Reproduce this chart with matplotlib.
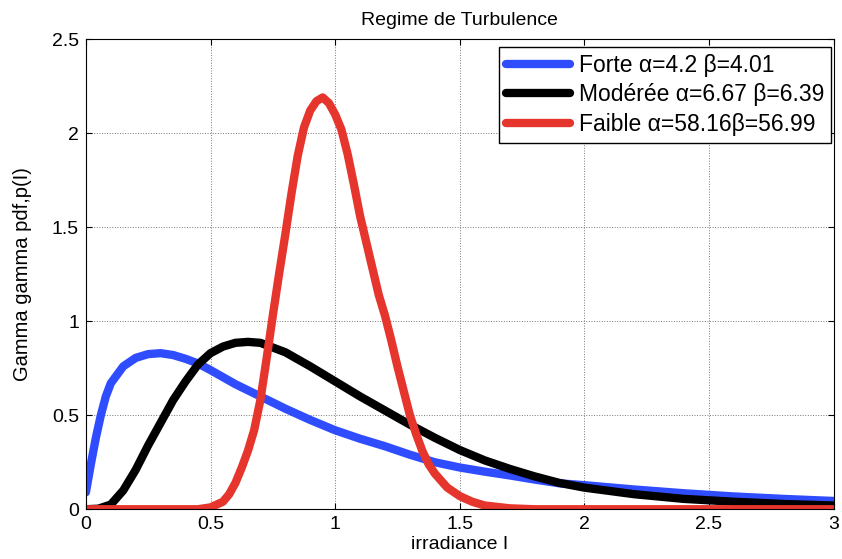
import matplotlib
matplotlib.use('agg')
import matplotlib.pyplot as plt

plt.rcParams['font.family'] = ['Liberation Sans', 'DejaVu Sans']

# Values
x_forte = [0, 0.02, 0.04, 0.06, 0.08, 0.1, 0.15, 0.2, 0.25, 0.3, 0.35, 0.4, 0.45, 0.5,
           0.6, 0.7, 0.8, 0.9, 1.0, 1.1, 1.2, 1.3, 1.4, 1.5, 1.6, 1.7, 1.8, 1.9, 2.0,
           2.2, 2.4, 2.6, 2.8, 3.0]
y_forte = [0.09, 0.24, 0.38, 0.5, 0.6, 0.67, 0.76, 0.805, 0.825, 0.83, 0.82, 0.8, 0.775, 0.74,
           0.665, 0.6, 0.535, 0.475, 0.42, 0.375, 0.335, 0.29, 0.25, 0.222, 0.2, 0.18, 0.158,
           0.138, 0.128, 0.105, 0.085, 0.068, 0.055, 0.044]

x_moderee = [0, 0.05, 0.1, 0.15, 0.2, 0.25, 0.3, 0.35, 0.4, 0.45, 0.5, 0.55, 0.6, 0.65, 0.7,
             0.8, 0.9, 1.0, 1.1, 1.2, 1.3, 1.4, 1.5, 1.6, 1.7, 1.8, 1.9, 2.0, 2.2, 2.4, 2.6,
             2.8, 3.0]
y_moderee = [0, 0.003, 0.025, 0.1, 0.21, 0.34, 0.46, 0.58, 0.68, 0.77, 0.83, 0.865, 0.885,
             0.89, 0.885, 0.835, 0.76, 0.68, 0.6, 0.525, 0.45, 0.38, 0.315, 0.26, 0.215, 0.175,
             0.14, 0.115, 0.08, 0.055, 0.04, 0.028, 0.02]

x_faible = [0, 0.45, 0.5, 0.55, 0.575, 0.6, 0.625, 0.65, 0.675, 0.7, 0.725, 0.75, 0.775, 0.8,
            0.825, 0.85, 0.875, 0.9, 0.925, 0.95, 0.975, 1.0, 1.025, 1.05, 1.075, 1.1, 1.125,
            1.15, 1.175, 1.2, 1.225, 1.25, 1.275, 1.3, 1.325, 1.35, 1.375, 1.4, 1.45, 1.5,
            1.55, 1.6, 1.7, 1.8, 3.0]
y_faible = [0, 0, 0.01, 0.04, 0.08, 0.14, 0.22, 0.31, 0.42, 0.58, 0.8, 1.03, 1.25, 1.46,
            1.68, 1.88, 2.03, 2.12, 2.17, 2.19, 2.16, 2.1, 2.02, 1.89, 1.73, 1.56, 1.42,
            1.28, 1.14, 1.03, 0.9, 0.76, 0.63, 0.5, 0.4, 0.31, 0.24, 0.19, 0.115, 0.07,
            0.04, 0.02, 0.005, 0, 0]

labels = ['Forte \u03b1=4.2 \u03b2=4.01',
          'Modérée \u03b1=6.67 \u03b2=6.39',
          'Faible \u03b1=58.16\u03b2=56.99']
colors = ['#2f4dff', 'black', '#e5352d']

fig = plt.figure(figsize=(8.42, 5.59), dpi=100)
ax = fig.add_axes([0.102, 0.089, 0.888, 0.841])

for xs, ys, lab, c in zip((x_forte, x_moderee, x_faible),
                          (y_forte, y_moderee, y_faible), labels, colors):
    ax.plot(xs, ys, color=c, lw=6, label=lab, marker='.', markersize=4,
            solid_capstyle='round', solid_joinstyle='round')

ax.set_xlim(0, 3)
ax.set_ylim(0, 2.5)
ax.set_xticks([0, 0.5, 1, 1.5, 2, 2.5, 3])
ax.set_xticklabels(['0', '0.5', '1', '1.5', '2', '2.5', '3'])
ax.set_yticks([0, 0.5, 1, 1.5, 2, 2.5])
ax.set_yticklabels(['0', '0.5', '1', '1.5', '2', '2.5'])
ax.tick_params(direction='in', top=True, right=True, labelsize=14, length=4, pad=5)
ax.grid(True, color='#777777', lw=0.7, ls=':')

ax.set_title('Regime de Turbulence', fontsize=14, pad=10)
ax.set_xlabel('irradiance I', fontsize=14, labelpad=2)
ax.set_ylabel('Gamma gamma pdf,p(I)', fontsize=14.5, labelpad=14)

leg = ax.legend(loc='upper right', fontsize=16.5, numpoints=1, handlelength=2.8,
                handletextpad=0.4, fancybox=False, framealpha=1, edgecolor='black',
                borderpad=0.3, labelspacing=0.28, borderaxespad=0,
                bbox_to_anchor=(0.997, 0.983))
leg.get_frame().set_linewidth(1)

plt.savefig('out.png', dpi=100)
plt.close()
